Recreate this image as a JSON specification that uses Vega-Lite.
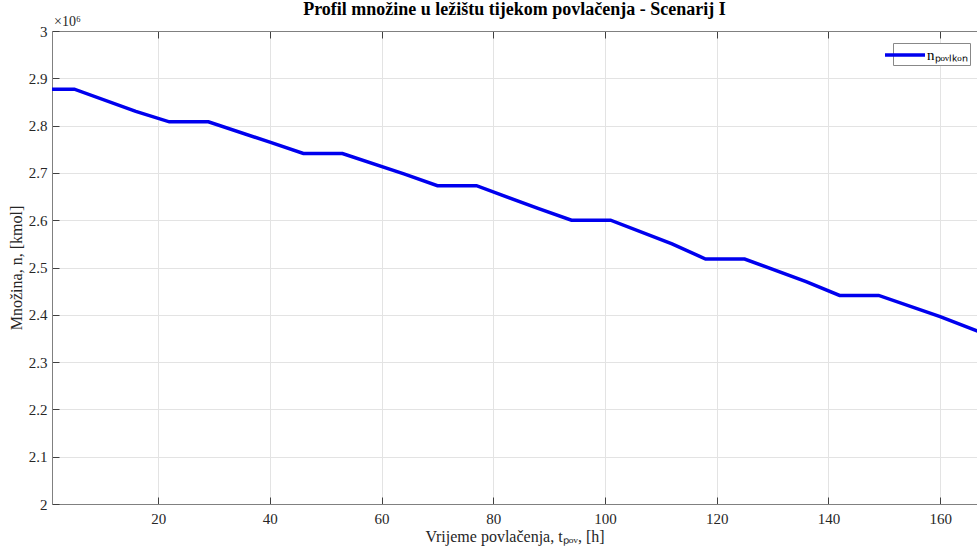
{
  "$schema": "https://vega.github.io/schema/vega-lite/v6.json",
  "autosize": "none",
  "width": 925,
  "height": 473,
  "padding": {"left": 52, "top": 31, "right": 0, "bottom": 46},
  "background": "white",
  "config": {
    "font": "Liberation Serif",
    "view": {"stroke": null},
    "axis": {"labelFont": "Liberation Serif", "titleFont": "Liberation Serif", "labelFontSize": 15, "titleFontSize": 16, "labelColor": "#262626", "titleColor": "#262626", "titleFontWeight": "normal", "domainColor": "#808080", "tickColor": "#404040", "gridColor": "#e3e3e3", "gridWidth": 1}
  },
  "title": {"text": "Profil množine u ležištu tijekom povlačenja - Scenarij I", "font": "Liberation Serif", "fontSize": 18, "fontWeight": "bold", "color": "#000000", "anchor": "middle", "offset": 2, "dy": 6},
  "datasets": {
    "profil": [
      {"t": 1, "n": 2877000, "serija": "nₚₒᵥₗₖₒₙ"},
      {"t": 5, "n": 2877000, "serija": "nₚₒᵥₗₖₒₙ"},
      {"t": 16, "n": 2830000, "serija": "nₚₒᵥₗₖₒₙ"},
      {"t": 22, "n": 2808000, "serija": "nₚₒᵥₗₖₒₙ"},
      {"t": 29, "n": 2808000, "serija": "nₚₒᵥₗₖₒₙ"},
      {"t": 40, "n": 2765000, "serija": "nₚₒᵥₗₖₒₙ"},
      {"t": 46, "n": 2741000, "serija": "nₚₒᵥₗₖₒₙ"},
      {"t": 53, "n": 2741000, "serija": "nₚₒᵥₗₖₒₙ"},
      {"t": 64, "n": 2698000, "serija": "nₚₒᵥₗₖₒₙ"},
      {"t": 70, "n": 2673000, "serija": "nₚₒᵥₗₖₒₙ"},
      {"t": 77, "n": 2673000, "serija": "nₚₒᵥₗₖₒₙ"},
      {"t": 88, "n": 2625000, "serija": "nₚₒᵥₗₖₒₙ"},
      {"t": 94, "n": 2600000, "serija": "nₚₒᵥₗₖₒₙ"},
      {"t": 101, "n": 2600000, "serija": "nₚₒᵥₗₖₒₙ"},
      {"t": 112, "n": 2550000, "serija": "nₚₒᵥₗₖₒₙ"},
      {"t": 118, "n": 2518000, "serija": "nₚₒᵥₗₖₒₙ"},
      {"t": 125, "n": 2518000, "serija": "nₚₒᵥₗₖₒₙ"},
      {"t": 136, "n": 2470000, "serija": "nₚₒᵥₗₖₒₙ"},
      {"t": 142, "n": 2441000, "serija": "nₚₒᵥₗₖₒₙ"},
      {"t": 149, "n": 2441000, "serija": "nₚₒᵥₗₖₒₙ"},
      {"t": 160, "n": 2396000, "serija": "nₚₒᵥₗₖₒₙ"},
      {"t": 167, "n": 2364000, "serija": "nₚₒᵥₗₖₒₙ"}
    ],
    "eksponent": [{"t": 1, "n": 3000000, "oznaka": "×10⁶"}]
  },
  "layer": [
    {
      "data": {"name": "profil"},
      "mark": {"type": "line", "strokeWidth": 3.5, "clip": true},
      "encoding": {
        "x": {"field": "t", "type": "quantitative", "scale": {"domain": [1, 166.6], "nice": false, "zero": false},
          "axis": {"orient": "bottom", "values": [20, 40, 60, 80, 100, 120, 140, 160], "title": "Vrijeme povlačenja, tₚₒᵥ, [h]", "tickSize": -7, "labelPadding": 14, "titlePadding": 2, "grid": true}},
        "y": {"field": "n", "type": "quantitative", "scale": {"domain": [2000000, 3000000], "nice": false, "zero": false},
          "axis": {"values": [2000000, 2100000, 2200000, 2300000, 2400000, 2500000, 2600000, 2700000, 2800000, 2900000, 3000000], "labelExpr": "format(datum.value/1e6, '.1~f')", "title": "Množina, n, [kmol]", "tickSize": -7, "labelPadding": 12, "titlePadding": 4, "grid": true}},
        "color": {"field": "serija", "type": "nominal", "scale": {"range": ["#0000ee"]},
          "legend": {"title": null, "orient": "none", "legendX": 841, "legendY": 12, "symbolType": "M-2.5,0H2.5", "symbolStrokeWidth": 3.5, "symbolSize": 256, "labelFont": "Liberation Serif", "labelFontSize": 15, "labelColor": "#000", "strokeColor": "#888", "fillColor": "white", "padding": 2, "labelOffset": 12}}
      }
    },
    {
      "data": {"name": "eksponent"},
      "mark": {"type": "text", "align": "left", "baseline": "bottom", "dx": 2, "dy": -2, "fontSize": 14, "font": "Liberation Serif", "color": "#262626"},
      "encoding": {
        "x": {"field": "t", "type": "quantitative", "axis": {"orient": "top", "values": [20, 40, 60, 80, 100, 120, 140, 160], "labels": false, "title": null, "tickSize": -7, "grid": false}},
        "y": {"field": "n", "type": "quantitative"},
        "text": {"field": "oznaka"}
      }
    }
  ],
  "resolve": {"axis": {"x": "independent"}}
}
